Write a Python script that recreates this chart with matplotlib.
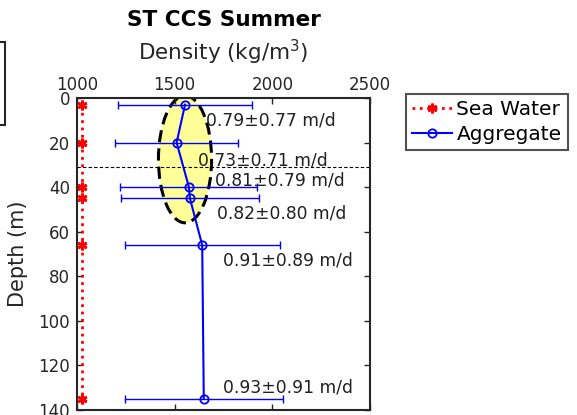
import matplotlib
matplotlib.use("Agg")
import matplotlib.pyplot as plt
from matplotlib.patches import Ellipse, Rectangle

depths = [3, 20, 40, 45, 66, 135]
seawater_density = [1025, 1025, 1025, 1025, 1025, 1025]
agg_density = [1553, 1510, 1573, 1578, 1641, 1649]
agg_err = [342, 316, 351, 355, 396, 404]
speed_labels = ["0.79\u00b10.77 m/d", "0.73\u00b10.71 m/d", "0.81\u00b10.79 m/d",
                "0.82\u00b10.80 m/d", "0.91\u00b10.89 m/d", "0.93\u00b10.91 m/d"]
label_x = [1662, 1617, 1705, 1715, 1745, 1745]
label_y = [10, 28, 37, 52, 73, 130]
mld = 31
xticks = [1000, 1500, 2000, 2500]
yticks = [0, 20, 40, 60, 80, 100, 120, 140]

plt.rcParams['font.family'] = ['DejaVu Sans']
fig = plt.figure(figsize=(5.77, 4.15), dpi=100)
W, H = 577, 415
ax = fig.add_axes([77/W, 1-410/H, (370-77)/W, (410-98)/H])

ell = Ellipse((1553, 27.5), 272, 57, facecolor=(1, 1, 0.6), edgecolor='black',
              linestyle=(0, (4, 2)), linewidth=2.2, zorder=1)
ax.add_patch(ell)

ax.axhline(mld, color='black', linestyle=(0, (3, 2)), linewidth=0.8, zorder=2)

ax.plot(seawater_density, depths, color='red', linestyle=':', linewidth=2,
        marker=(6, 2, 0), markersize=7, markeredgewidth=2, label='Sea Water', zorder=3)
ax.errorbar(agg_density, depths, xerr=agg_err, fmt='none', ecolor='blue',
            elinewidth=1, capsize=3, capthick=1, zorder=3)
ax.plot(agg_density, depths, color='blue', linewidth=1.5, marker='o', markersize=6,
        markerfacecolor='none', markeredgecolor='blue', markeredgewidth=1.3,
        label='Aggregate', zorder=4)

for s, x, y in zip(speed_labels, label_x, label_y):
    ax.text(x, y, s, fontsize=12.3, va='center', ha='left', color='#202020', zorder=5)

ax.set_xlim(1000, 2500)
ax.set_ylim(140, 0)
ax.set_xticks(xticks)
ax.set_yticks(yticks)
ax.xaxis.tick_top()
ax.xaxis.set_label_position('top')
ax.tick_params(axis='both', direction='in', labelsize=12, colors='#262626',
               top=True, bottom=True, left=True, right=True, length=4, width=1)
ax.tick_params(axis='x', labelbottom=False, labeltop=True, pad=3)
ax.tick_params(axis='y', pad=5)
for sp in ax.spines.values():
    sp.set_linewidth(1.5)
    sp.set_color('#262626')
ax.set_xlabel('Density (kg/m$^3$)', fontsize=15.5, color='#262626')
ax.xaxis.set_label_coords(0.5, 1 + (98-52)/312, transform=ax.transAxes)
ax.xaxis.label.set_va('center')
ax.set_ylabel('Depth (m)', fontsize=15, color='#262626')
ax.yaxis.set_label_coords(-(77-18)/293, 0.5, transform=ax.transAxes)
ax.yaxis.label.set_va('center')
fig.text(224/W, 1-20/H, 'ST CCS Summer', fontsize=15.5, fontweight='bold',
         ha='center', va='center')

leg = fig.legend(loc='upper left', bbox_to_anchor=(406/W, 1-94/H), fontsize=14.5,
                 frameon=True, fancybox=False, edgecolor='#262626',
                 handlelength=2.0, handletextpad=0.2, borderpad=0.3,
                 labelspacing=0.3, borderaxespad=0)
leg.get_frame().set_linewidth(1.5)

fig.patches.append(Rectangle((-10/W, 1-125/H), 15/W, 83/H, transform=fig.transFigure,
                             fill=False, edgecolor='#262626', linewidth=1.5))

fig.savefig('out.png', dpi=100)
